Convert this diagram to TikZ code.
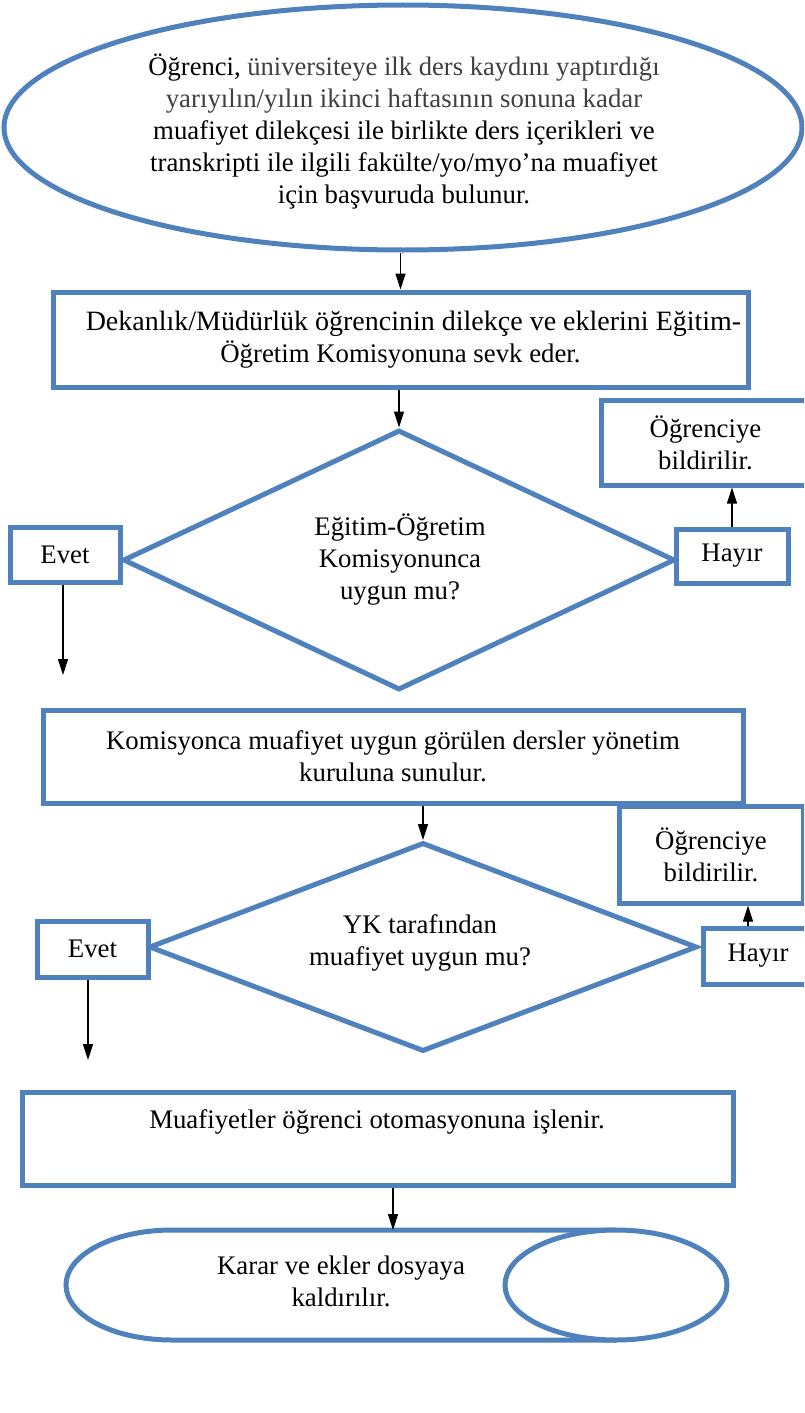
\documentclass[tikz,border=0pt]{standalone}
\usepackage{fontspec}
\setmainfont{Liberation Serif}
\usetikzlibrary{shapes.geometric,arrows.meta}
\definecolor{fblue}{RGB}{79,129,189}
\definecolor{tgrey}{RGB}{64,64,64}
\begin{document}
\begin{tikzpicture}[x=1pt,y=-1pt,
  every node/.style={font=\fontsize{26.8}{32}\selectfont},
  shp/.style={draw=fblue,line width=5pt,fill=white,inner sep=0pt},
  box/.style={shp,rectangle,align=center},
  ell/.style={shp,ellipse},
  dia/.style={shp,diamond},
  txt/.style={align=center,inner sep=0pt},
  arr/.style={line width=1.3pt,-{Triangle[width=10pt,length=16pt]}}]
\useasboundingbox (0,0) rectangle (804,1413);
\clip (0,0) rectangle (804,1413);
\fill[white] (0,0) rectangle (804,1413);
% top ellipse
\node[ell,minimum width=798pt,minimum height=245pt] (e) at (403,127.5) {};
\node[txt] (et) at (404,132) {\fontsize{26.6}{29.7}\selectfont Öğrenci, {\color{tgrey}üniversiteye ilk ders kaydını yaptırdığı}\\
{\color{tgrey}yarıyılın/yılın ikinci haftasının sonuna kadar}\\
muafiyet dilekçesi ile birlikte ders içerikleri ve\\
transkripti ile ilgili fakülte/yo/myo’na muafiyet\\
için başvuruda bulunur.};
% box 1
\node[box,minimum width=695pt,minimum height=95pt] (b1) at (400.5,339.5) {\fontsize{28}{32}\selectfont \hspace*{26pt}Dekanlık/Müdürlük öğrencinin dilekçe ve eklerini Eğitim-\\Öğretim Komisyonuna sevk eder.};
% diamond 1
\node[dia,minimum width=552pt,minimum height=260pt] (d1) at (399,560) {};
\node[txt] (d1t) at (400,560) {\fontsize{26.8}{33}\selectfont Eğitim-Öğretim\\Komisyonunca\\uygun mu?};
\node[box,minimum width=110pt,minimum height=55pt] (y1) at (65,554.5) {Evet};
\node[box,minimum width=112pt,minimum height=54pt] (n1) at (732,556) {Hayır};
\node[box,minimum width=209pt,minimum height=85pt] (o1) at (705.5,442.5) {Öğrenciye\\bildirilir.};
\coordinate (y1e) at (63,675);
% box 2
\node[box,minimum width=700pt,minimum height=93pt] (b2) at (393,756.5) {\fontsize{26.8}{36}\selectfont Komisyonca muafiyet uygun görülen dersler yönetim\\kuruluna sunulur.};
% diamond 2
\node[dia,minimum width=548pt,minimum height=209pt] (d2) at (423,947) {};
\node[txt] (d2t) at (420,943) {\fontsize{26.8}{36}\selectfont YK tarafından\\muafiyet uygun mu?};
\node[box,minimum width=111pt,minimum height=56pt] (y2) at (92.5,949) {Evet};
\node[box,minimum width=110pt,minimum height=56pt] (n2) at (758,956) {Hayır};
\node[box,minimum width=184pt,minimum height=97pt] (o2) at (711,854.5) {\fontsize{26.8}{35}\selectfont Öğrenciye\\bildirilir.};
\coordinate (y2e) at (88,1060);
\coordinate (n2x) at (748,0);
% box 3
\node[box,minimum width=711pt,minimum height=93pt] (b3) at (377.5,1138.5) {};
\node[txt] (b3t) at (377,1122) {Muafiyetler öğrenci otomasyonuna işlenir.};
% storage shape
\coordinate (st) at (393,1230);
\draw[draw=fblue,line width=5pt,fill=white] (616,1230) -- (172,1230) arc[start angle=270,end angle=90,x radius=106,y radius=55] -- (616,1340);
\draw[draw=fblue,line width=5pt,fill=white] (616,1285) ellipse[x radius=111,y radius=55];
\node[txt] (stt) at (341,1281) {\fontsize{26.8}{37}\selectfont Karar ve ekler dosyaya\\kaldırılır.};
% arrows
\draw[arr] (b1.north |- e.south) -- (b1.north);
\draw[arr] (b1.south -| d1.north) -- (d1.north);
\draw[arr] (n1.north) -- (n1.north |- o1.south);
\draw[arr] (y1e |- y1.south) -- (y1e);
\draw[arr] (d2.north |- b2.south) -- (d2.north);
\draw[arr] (n2x |- n2.north) -- (n2x |- o2.south);
\draw[arr] (y2e |- y2.south) -- (y2e);
\draw[arr] (st |- b3.south) -- (st);
\end{tikzpicture}
\end{document}
